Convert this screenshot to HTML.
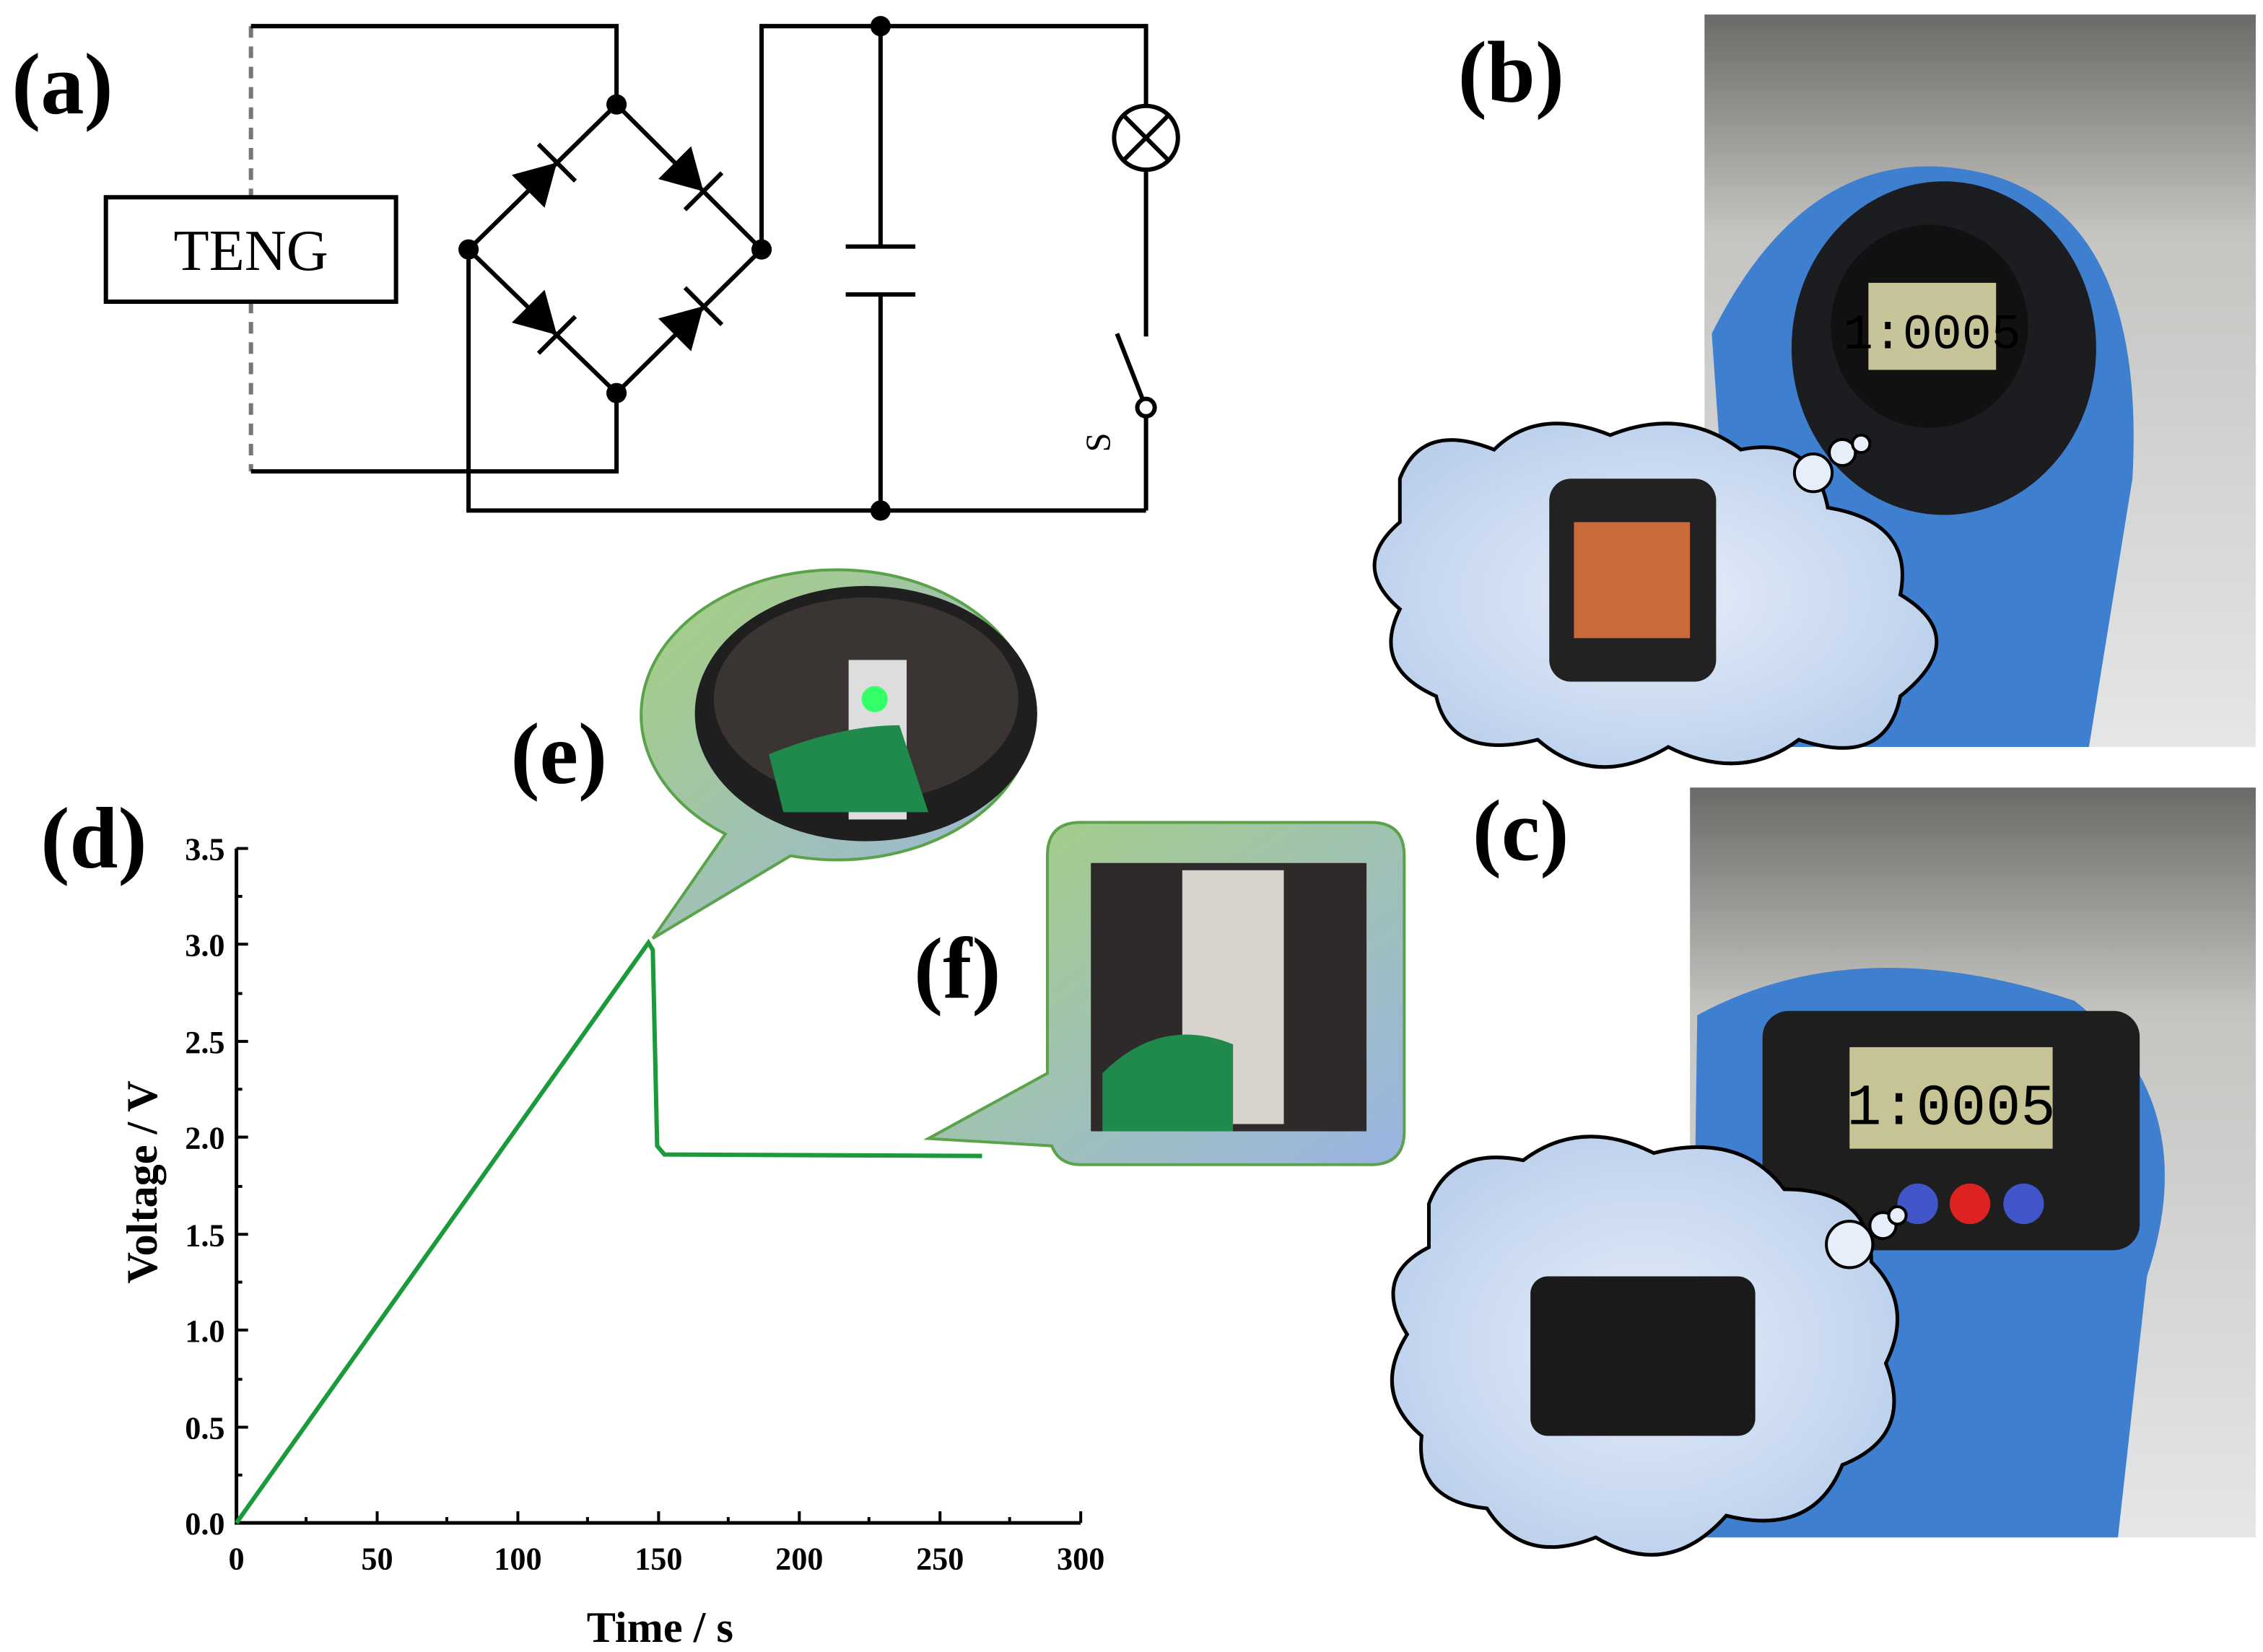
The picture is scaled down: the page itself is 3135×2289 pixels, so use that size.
<!DOCTYPE html>
<html><head><meta charset="utf-8"><style>html,body{margin:0;padding:0;background:#fff}svg{display:block}</style></head><body>
<svg width="3135" height="2289" viewBox="0 0 1560 1139" xmlns="http://www.w3.org/2000/svg" font-family="Liberation Serif, serif">
<defs>
<linearGradient id="bg1" x1="0" y1="0" x2="0" y2="1"><stop offset="0" stop-color="#6a6a68"/><stop offset="0.3" stop-color="#c4c5c1"/><stop offset="1" stop-color="#e4e6e8"/></linearGradient>
<radialGradient id="cl" cx="0.5" cy="0.5" r="0.6"><stop offset="0" stop-color="#e6eefa"/><stop offset="1" stop-color="#b8cdea"/></radialGradient>
<linearGradient id="eb" x1="0" y1="0" x2="1" y2="1"><stop offset="0" stop-color="#a6d07e"/><stop offset="1" stop-color="#9ab4e4"/></linearGradient>
</defs>
<g fill="none" stroke="#000" stroke-width="3">
<line x1="173" y1="18" x2="173" y2="136" stroke="#777" stroke-dasharray="8,6"/>
<line x1="173" y1="208" x2="173" y2="325" stroke="#777" stroke-dasharray="8,6"/>
<rect x="73" y="136" width="200" height="72" fill="#fff"/>
<polyline points="173,18 425,18 425,72"/>
<polyline points="173,325 425,325 425,271"/>
<polygon points="425,72 525,172 425,271 323,172"/>
<polyline points="323,172 323,352 790,352"/>
<polyline points="525,172 525,18 790,18 790,73"/>
<line x1="607" y1="18" x2="607" y2="170"/><line x1="583" y1="170" x2="631" y2="170"/>
<line x1="583" y1="203" x2="631" y2="203"/><line x1="607" y1="203" x2="607" y2="352"/>
<circle cx="790" cy="95" r="22"/><line x1="774" y1="79" x2="806" y2="111"/><line x1="806" y1="79" x2="774" y2="111"/>
<line x1="790" y1="117" x2="790" y2="232"/>
<line x1="770" y1="230" x2="788" y2="276"/>
<line x1="790" y1="287" x2="790" y2="352"/>
</g>
<circle cx="790" cy="281" r="6" fill="#fff" stroke="#000" stroke-width="3"/>
<g fill="#000">
<circle cx="425" cy="72" r="7"/><circle cx="425" cy="271" r="7"/><circle cx="323" cy="172" r="7"/><circle cx="525" cy="172" r="7"/><circle cx="607" cy="18" r="7"/><circle cx="607" cy="352" r="7"/>
<g transform="translate(374,122) rotate(-45)"><polygon points="-14,-16 -14,16 14,0"/><line x1="14" y1="-18" x2="14" y2="18" stroke="#000" stroke-width="3"/></g>
<g transform="translate(475,122) rotate(45)"><polygon points="-14,-16 -14,16 14,0"/><line x1="14" y1="-18" x2="14" y2="18" stroke="#000" stroke-width="3"/></g>
<g transform="translate(374,221) rotate(45)"><polygon points="-14,-16 -14,16 14,0"/><line x1="14" y1="-18" x2="14" y2="18" stroke="#000" stroke-width="3"/></g>
<g transform="translate(475,221) rotate(-45)"><polygon points="-14,-16 -14,16 14,0"/><line x1="14" y1="-18" x2="14" y2="18" stroke="#000" stroke-width="3"/></g>
</g>
<text x="173" y="186" font-size="40" text-anchor="middle">TENG</text>
<text transform="translate(765,305) rotate(-90)" font-size="24" text-anchor="middle">S</text>
<rect x="1175" y="10" width="380" height="505" fill="url(#bg1)"/>
<path d="M1180,230 Q1250,90 1370,120 Q1480,150 1470,330 L1440,515 L1200,515 Z" fill="#3f7fd0"/>
<ellipse cx="1340" cy="240" rx="105" ry="115" fill="#1c1d21"/>
<ellipse cx="1330" cy="225" rx="68" ry="70" fill="#111"/>
<rect x="1288" y="195" width="88" height="60" fill="#c8c49a"/>
<text x="1332" y="240" font-size="34" font-family="Liberation Mono, monospace" text-anchor="middle">1:0005</text>
<rect x="1165" y="543" width="390" height="517" fill="url(#bg1)"/>
<path d="M1170,700 Q1280,640 1430,690 Q1520,760 1480,880 L1460,1060 L1165,1060 Z" fill="#3f7fd0"/>
<rect x="1215" y="697" width="260" height="165" rx="18" fill="#1e1e1f"/>
<rect x="1275" y="722" width="140" height="70" fill="#c6c394"/>
<text x="1345" y="775" font-size="40" font-family="Liberation Mono, monospace" text-anchor="middle">1:0005</text>
<circle cx="1322" cy="830" r="14" fill="#3f55c8"/><circle cx="1358" cy="830" r="14" fill="#d22"/><circle cx="1395" cy="830" r="14" fill="#3f55c8"/>
<path d="M965,330 Q980,290 1030,310 Q1060,280 1110,300 Q1160,280 1200,310 Q1250,300 1260,350 Q1320,360 1310,410 Q1360,440 1310,480 Q1300,530 1240,510 Q1200,540 1150,515 Q1100,545 1060,510 Q1000,525 990,480 Q945,460 965,420 Q930,390 965,360 Z" fill="url(#cl)" stroke="#000" stroke-width="2.5"/>
<rect x="1068" y="330" width="115" height="140" rx="15" fill="#222"/><rect x="1085" y="360" width="80" height="80" fill="#c96a38"/>
<circle cx="1250" cy="326" r="13" fill="#e6eefa" stroke="#000" stroke-width="2"/><circle cx="1270" cy="312" r="9" fill="#e6eefa" stroke="#000" stroke-width="2"/><circle cx="1283" cy="306" r="6" fill="#e6eefa" stroke="#000" stroke-width="2"/>
<path d="M985,830 Q1000,790 1050,800 Q1090,770 1140,795 Q1200,780 1230,820 Q1290,820 1290,870 Q1320,900 1300,940 Q1320,990 1270,1010 Q1250,1060 1190,1045 Q1150,1090 1100,1060 Q1050,1080 1025,1040 Q975,1035 980,990 Q945,960 970,920 Q945,880 985,860 Z" fill="url(#cl)" stroke="#000" stroke-width="2.5"/>
<rect x="1055" y="880" width="155" height="110" rx="12" fill="#1a1a1a"/>
<circle cx="1275" cy="858" r="16" fill="#e6eefa" stroke="#000" stroke-width="2"/><circle cx="1298" cy="845" r="9" fill="#e6eefa" stroke="#000" stroke-width="2"/><circle cx="1308" cy="838" r="6" fill="#e6eefa" stroke="#000" stroke-width="2"/>
<path d="M450,647 L500,575 A135,100 0 1 1 545,590 Z" fill="url(#eb)" stroke="#5aa34a" stroke-width="2"/>
<ellipse cx="597" cy="492" rx="118" ry="88" fill="#1f1f1f"/>
<ellipse cx="597" cy="482" rx="105" ry="70" fill="#3a3532"/>
<rect x="585" y="455" width="40" height="110" fill="#ddd"/><circle cx="603" cy="482" r="9" fill="#3f6"/>
<path d="M530,520 Q580,500 620,500 L640,560 L540,560 Z" fill="#1f8a4c"/>
<path d="M640,785 L722,740 L722,590 Q722,567 745,567 L945,567 Q968,567 968,590 L968,780 Q968,803 945,803 L745,803 Q730,803 725,790 Z" fill="url(#eb)" stroke="#5aa34a" stroke-width="2"/>
<rect x="752" y="595" width="190" height="185" fill="#2e2a29"/>
<rect x="815" y="600" width="70" height="175" fill="#d8d3cc"/>
<path d="M760,740 Q800,700 850,720 L850,780 L760,780 Z" fill="#1f8a4c"/>
<g font-weight="bold" font-size="60">
<text x="8" y="78">(a)</text><text x="1005" y="70">(b)</text><text x="1015" y="593">(c)</text><text x="28" y="598">(d)</text><text x="352" y="540">(e)</text><text x="630" y="688">(f)</text>
</g>
<g stroke="#000" stroke-width="2.5" fill="none">
<polyline points="163,585 163,1050 745,1050"/>
</g>
<g stroke="#000" stroke-width="2">
<line x1="163" y1="1050" x2="163" y2="1042"/><line x1="260" y1="1050" x2="260" y2="1042"/><line x1="357" y1="1050" x2="357" y2="1042"/><line x1="454" y1="1050" x2="454" y2="1042"/><line x1="551" y1="1050" x2="551" y2="1042"/><line x1="648" y1="1050" x2="648" y2="1042"/><line x1="745" y1="1050" x2="745" y2="1042"/>
<line x1="211" y1="1050" x2="211" y2="1046"/><line x1="308" y1="1050" x2="308" y2="1046"/><line x1="405" y1="1050" x2="405" y2="1046"/><line x1="502" y1="1050" x2="502" y2="1046"/><line x1="599" y1="1050" x2="599" y2="1046"/><line x1="696" y1="1050" x2="696" y2="1046"/>
<line x1="163" y1="1050" x2="171" y2="1050"/><line x1="163" y1="984" x2="171" y2="984"/><line x1="163" y1="917" x2="171" y2="917"/><line x1="163" y1="851" x2="171" y2="851"/><line x1="163" y1="784" x2="171" y2="784"/><line x1="163" y1="718" x2="171" y2="718"/><line x1="163" y1="651" x2="171" y2="651"/><line x1="163" y1="585" x2="171" y2="585"/>
<line x1="163" y1="1017" x2="167" y2="1017"/><line x1="163" y1="951" x2="167" y2="951"/><line x1="163" y1="884" x2="167" y2="884"/><line x1="163" y1="818" x2="167" y2="818"/><line x1="163" y1="751" x2="167" y2="751"/><line x1="163" y1="685" x2="167" y2="685"/><line x1="163" y1="618" x2="167" y2="618"/>
</g>
<polyline points="163,1050 447,650 450,655 453,790 458,796 677,797" fill="none" stroke="#1a9a3a" stroke-width="3"/>
<g font-weight="bold" font-size="22" text-anchor="middle">
<text x="163" y="1082">0</text><text x="260" y="1082">50</text><text x="357" y="1082">100</text><text x="454" y="1082">150</text><text x="551" y="1082">200</text><text x="648" y="1082">250</text><text x="745" y="1082">300</text>
</g>
<g font-weight="bold" font-size="22" text-anchor="end">
<text x="155" y="1058">0.0</text><text x="155" y="992">0.5</text><text x="155" y="925">1.0</text><text x="155" y="859">1.5</text><text x="155" y="792">2.0</text><text x="155" y="726">2.5</text><text x="155" y="659">3.0</text><text x="155" y="593">3.5</text>
</g>
<text x="455" y="1132" font-weight="bold" font-size="30" text-anchor="middle">Time / s</text>
<text transform="translate(108,815) rotate(-90)" font-weight="bold" font-size="30" text-anchor="middle">Voltage / V</text>
</svg>
</body></html>
